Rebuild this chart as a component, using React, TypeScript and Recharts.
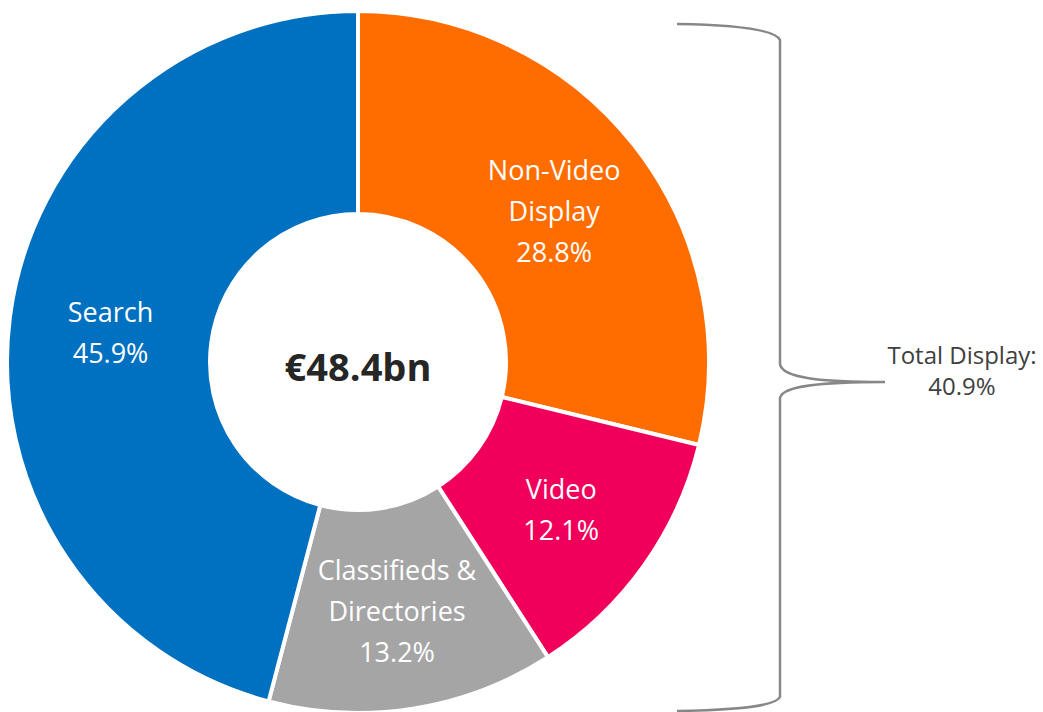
import React from "react";
import { PieChart, Pie, Cell, Customized } from "recharts";

const categories = ["Non-Video Display", "Video", "Classifieds & Directories", "Search"];
const shares = [28.8, 12.1, 13.2, 45.9];
const labelLines = [
  ["Non-Video", "Display", "28.8%"],
  ["Video", "12.1%"],
  ["Classifieds &", "Directories", "13.2%"],
  ["Search", "45.9%"],
];
const colors = ["#FF6D00", "#F0005A", "#A5A5A5", "#0070C0"];
const totalLabel = "€48.4bn";
const bracketLines = ["Total Display:", "40.9%"];

const data = categories.map((name, i) => ({ name, value: shares[i], lines: labelLines[i] }));

const FONT = "'Open Sans', Lato, sans-serif";
const RAD = Math.PI / 180;
const CX = 358;
const CY = 362;

const renderLabel = (props: any) => {
  const { cx, cy, midAngle, innerRadius, outerRadius, index } = props;
  const r = (innerRadius + outerRadius) / 2;
  const x = cx + r * Math.cos(-midAngle * RAD);
  const y = cy + r * Math.sin(-midAngle * RAD) + 2;
  const lines: string[] = data[index].lines;
  const lh = 41;
  const y0 = y - ((lines.length - 1) * lh) / 2;
  return (
    <text x={x} y={y0} textAnchor="middle" dominantBaseline="central" fill="#FFFFFF" fontSize={27} fontFamily={FONT}>
      {lines.map((l, i) => (
        <tspan key={i} x={x} y={y0 + i * lh}>{l}</tspan>
      ))}
    </text>
  );
};

const Extras = () => (
  <g>
    <text x={CX} y={CY + 4} textAnchor="middle" dominantBaseline="central" fill="#262626" fontSize={38} fontWeight={700} fontFamily={FONT}>
      {totalLabel}
    </text>
    <path
      d="M677,24 C740,25 775,30 780,40 L780,364 C782,378 820,382 885,382 C820,382 782,386 780,398 L780,697 C775,706 740,710 677,711"
      fill="none"
      stroke="#878787"
      strokeWidth={2.5}
    />
    <text x={962} y={354} textAnchor="middle" dominantBaseline="central" fill="#404040" fontSize={24} fontFamily={FONT}>
      <tspan x={962} y={354}>{bracketLines[0]}</tspan>
      <tspan x={962} y={385}>{bracketLines[1]}</tspan>
    </text>
  </g>
);

export default function App() {
  return (
    <div style={{ position: "absolute", left: 0, top: 0, width: 1043, height: 712, background: "#fff" }}>
      <PieChart width={1043} height={712} margin={{ top: 0, right: 0, bottom: 0, left: 0 }}>
        <Pie
          data={data}
          dataKey="value"
          nameKey="name"
          cx={CX}
          cy={CY}
          innerRadius={148}
          outerRadius={351}
          startAngle={90}
          endAngle={-270}
          stroke="#FFFFFF"
          strokeWidth={4}
          label={renderLabel}
          labelLine={false}
          isAnimationActive={false}
        >
          {data.map((d, i) => (
            <Cell key={d.name} fill={colors[i]} />
          ))}
        </Pie>
        <Customized component={Extras} />
      </PieChart>
    </div>
  );
}
